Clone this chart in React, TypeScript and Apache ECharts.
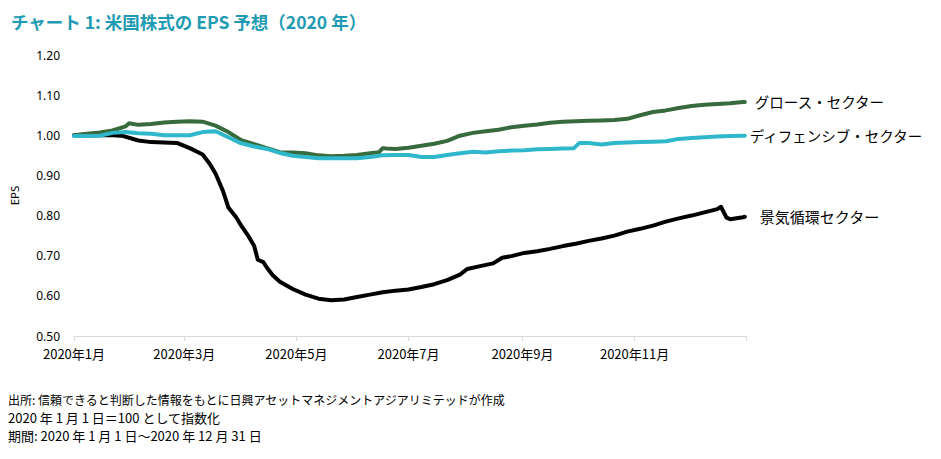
import React, { useEffect, useRef } from "react";
import * as echarts from "echarts";

const TITLE = "チャート 1: 米国株式の EPS 予想（2020 年）";
const NOTES = [
  "出所: 信頼できると判断した情報をもとに日興アセットマネジメントアジアリミテッドが作成",
  "2020 年 1 月 1 日＝100 として指数化",
  "期間: 2020 年 1 月 1 日～2020 年 12 月 31 日",
];
const NOTE_SIZES = [12, 13, 13];
const SERIES_NAMES = ["景気循環セクター", "グロース・セクター", "ディフェンシブ・セクター"];

const cyclical: [string, number][] = [
  ["2020-01-01", 1.0], ["2020-01-15", 1.0], ["2020-01-22", 1.0], ["2020-01-27", 0.999],
  ["2020-02-05", 0.987], ["2020-02-12", 0.983], ["2020-02-26", 0.981], ["2020-03-04", 0.968],
  ["2020-03-11", 0.952], ["2020-03-15", 0.928], ["2020-03-18", 0.905], ["2020-03-22", 0.862],
  ["2020-03-25", 0.82], ["2020-03-29", 0.797], ["2020-04-01", 0.775], ["2020-04-05", 0.748],
  ["2020-04-08", 0.725], ["2020-04-10", 0.69], ["2020-04-13", 0.684], ["2020-04-15", 0.67],
  ["2020-04-18", 0.652], ["2020-04-22", 0.635], ["2020-04-29", 0.617], ["2020-05-06", 0.603],
  ["2020-05-13", 0.593], ["2020-05-20", 0.589], ["2020-05-27", 0.591], ["2020-06-03", 0.597],
  ["2020-06-10", 0.603], ["2020-06-17", 0.609], ["2020-06-24", 0.613], ["2020-07-01", 0.616],
  ["2020-07-08", 0.622], ["2020-07-15", 0.629], ["2020-07-22", 0.639], ["2020-07-29", 0.653],
  ["2020-08-02", 0.667], ["2020-08-09", 0.674], ["2020-08-16", 0.681], ["2020-08-21", 0.695],
  ["2020-08-26", 0.699], ["2020-09-02", 0.707], ["2020-09-09", 0.711], ["2020-09-16", 0.717],
  ["2020-09-23", 0.724], ["2020-09-30", 0.73], ["2020-10-07", 0.737], ["2020-10-14", 0.743],
  ["2020-10-21", 0.75], ["2020-10-28", 0.76], ["2020-11-04", 0.767], ["2020-11-11", 0.775],
  ["2020-11-18", 0.785], ["2020-11-25", 0.793], ["2020-12-02", 0.8], ["2020-12-09", 0.808],
  ["2020-12-16", 0.816], ["2020-12-18", 0.822], ["2020-12-21", 0.795], ["2020-12-23", 0.791],
  ["2020-12-30", 0.796], ["2020-12-31", 0.797],
];

const growth: [string, number][] = [
  ["2020-01-01", 1.0], ["2020-01-08", 1.004], ["2020-01-15", 1.007], ["2020-01-22", 1.012],
  ["2020-01-29", 1.022], ["2020-01-31", 1.03], ["2020-02-05", 1.026], ["2020-02-12", 1.028],
  ["2020-02-19", 1.032], ["2020-02-26", 1.034], ["2020-03-04", 1.035], ["2020-03-11", 1.034],
  ["2020-03-18", 1.024], ["2020-03-25", 1.008], ["2020-04-01", 0.988], ["2020-04-08", 0.978],
  ["2020-04-15", 0.968], ["2020-04-22", 0.958], ["2020-04-29", 0.957], ["2020-05-06", 0.955],
  ["2020-05-13", 0.95], ["2020-05-20", 0.948], ["2020-05-27", 0.949], ["2020-06-03", 0.951],
  ["2020-06-10", 0.955], ["2020-06-15", 0.958], ["2020-06-17", 0.968], ["2020-06-19", 0.967],
  ["2020-06-24", 0.966], ["2020-07-01", 0.969], ["2020-07-08", 0.974], ["2020-07-15", 0.979],
  ["2020-07-22", 0.986], ["2020-07-29", 0.999], ["2020-08-05", 1.006], ["2020-08-12", 1.01],
  ["2020-08-19", 1.014], ["2020-08-26", 1.02], ["2020-09-02", 1.024], ["2020-09-09", 1.027],
  ["2020-09-16", 1.031], ["2020-09-23", 1.034], ["2020-09-30", 1.035], ["2020-10-07", 1.036],
  ["2020-10-14", 1.037], ["2020-10-21", 1.038], ["2020-10-28", 1.041], ["2020-11-04", 1.05],
  ["2020-11-11", 1.058], ["2020-11-18", 1.062], ["2020-11-25", 1.068], ["2020-12-02", 1.073],
  ["2020-12-09", 1.076], ["2020-12-16", 1.078], ["2020-12-23", 1.08], ["2020-12-30", 1.083],
  ["2020-12-31", 1.083],
];

const defensive: [string, number][] = [
  ["2020-01-01", 0.998], ["2020-01-08", 0.998], ["2020-01-15", 0.999], ["2020-01-22", 1.006],
  ["2020-01-29", 1.008], ["2020-02-05", 1.005], ["2020-02-12", 1.004], ["2020-02-19", 1.0],
  ["2020-02-26", 1.0], ["2020-03-04", 1.0], ["2020-03-11", 1.008], ["2020-03-18", 1.01],
  ["2020-03-25", 0.995], ["2020-04-01", 0.98], ["2020-04-08", 0.972], ["2020-04-15", 0.966],
  ["2020-04-22", 0.956], ["2020-04-29", 0.949], ["2020-05-06", 0.946], ["2020-05-13", 0.943],
  ["2020-05-20", 0.943], ["2020-05-27", 0.943], ["2020-06-03", 0.943], ["2020-06-10", 0.946],
  ["2020-06-17", 0.95], ["2020-06-24", 0.951], ["2020-07-01", 0.951], ["2020-07-08", 0.946],
  ["2020-07-15", 0.946], ["2020-07-22", 0.951], ["2020-07-29", 0.955], ["2020-08-05", 0.959],
  ["2020-08-12", 0.957], ["2020-08-19", 0.96], ["2020-08-26", 0.962], ["2020-09-02", 0.963],
  ["2020-09-09", 0.965], ["2020-09-16", 0.966], ["2020-09-23", 0.967], ["2020-09-29", 0.968],
  ["2020-10-02", 0.981], ["2020-10-07", 0.981], ["2020-10-14", 0.977], ["2020-10-21", 0.981],
  ["2020-10-28", 0.982], ["2020-11-04", 0.983], ["2020-11-11", 0.984], ["2020-11-18", 0.985],
  ["2020-11-25", 0.991], ["2020-12-02", 0.993], ["2020-12-09", 0.995], ["2020-12-16", 0.997],
  ["2020-12-23", 0.998], ["2020-12-30", 0.999], ["2020-12-31", 0.999],
];

const COLORS = ["#000000", "#376a3c", "#2fb8cb"];

function buildDays(): string[] {
  const out: string[] = [];
  const start = Date.UTC(2020, 0, 1);
  for (let i = 0; i <= 366; i++) {
    out.push(new Date(start + i * 86400000).toISOString().slice(0, 10));
  }
  return out;
}

const CJK = "'Noto Sans CJK JP', 'Noto Sans', sans-serif";

export default function App() {
  const ref = useRef<HTMLDivElement>(null);
  useEffect(() => {
    if (!ref.current) return;
    const chart = echarts.init(ref.current, undefined, { renderer: "svg" });
    const days = buildDays();
    const isTick = (v: string) => {
      const m = parseInt(v.slice(5, 7), 10);
      return v.slice(8) === "01" && m % 2 === 1;
    };
    const isLabel = (v: string) => isTick(v) && v.startsWith("2020");
    const mk = (i: number, data: [string, number][], dist: number, size: number) => ({
      name: SERIES_NAMES[i],
      type: "line",
      data,
      showSymbol: false,
      symbol: "none",
      smooth: false,
      lineStyle: { color: COLORS[i], width: 4, cap: "round", join: "round" },
      itemStyle: { color: COLORS[i] },
      endLabel: {
        show: true,
        formatter: "{a}",
        distance: dist,
        color: "#000",
        fontSize: size,
        fontFamily: CJK,
      },
      z: 2 + i,
    });
    chart.setOption({
      animation: false,
      grid: { left: 72.3, right: 194.3, top: 55, bottom: 123 },
      title: {
        text: TITLE,
        left: 6,
        top: 8,
        textStyle: { color: "#1f9bb3", fontSize: 17.5, fontWeight: "bold", fontFamily: "'Noto Sans CJK JP', sans-serif" },
      },
      xAxis: {
        type: "category",
        data: days,
        boundaryGap: false,
        axisLine: { lineStyle: { color: "#d9d9d9", width: 1 } },
        axisTick: {
          show: true,
          length: 5,
          interval: (_i: number, v: string) => isTick(v),
          lineStyle: { color: "#d9d9d9" },
        },
        axisLabel: {
          interval: (_i: number, v: string) => isLabel(v),
          formatter: (v: string) => `2020年${parseInt(v.slice(5, 7), 10)}月`,
          color: "#000",
          fontSize: 13,
          margin: 11,
          fontFamily: CJK,
        },
        splitLine: { show: false },
      },
      yAxis: {
        type: "value",
        min: 0.5,
        max: 1.2,
        interval: 0.1,
        name: "EPS",
        nameLocation: "middle",
        nameGap: 54,
        nameRotate: 90,
        nameTextStyle: { color: "#000", fontSize: 11.5, fontFamily: "'Noto Sans', sans-serif" },
        axisLine: { show: false },
        axisTick: { show: false },
        splitLine: { show: false },
        axisLabel: {
          formatter: (v: number) => v.toFixed(2),
          color: "#000",
          fontSize: 12,
          margin: 14,
          fontFamily: "'Noto Sans', sans-serif",
        },
      },
      series: [mk(0, cyclical, 15, 15), mk(1, growth, 10, 14.5), mk(2, defensive, 5, 14.5)],
      graphic: NOTES.map((t, i) => ({
        type: "text",
        left: 8,
        top: (i === 0 ? 393 : 392) + i * 18.5,
        style: { text: t, fill: "#000", fontSize: NOTE_SIZES[i], fontFamily: CJK },
      })),
    });
    return () => chart.dispose();
  }, []);
  return (
    <div
      ref={ref}
      style={{ position: "fixed", left: 0, top: 0, width: 941, height: 459, background: "#fff" }}
    />
  );
}
